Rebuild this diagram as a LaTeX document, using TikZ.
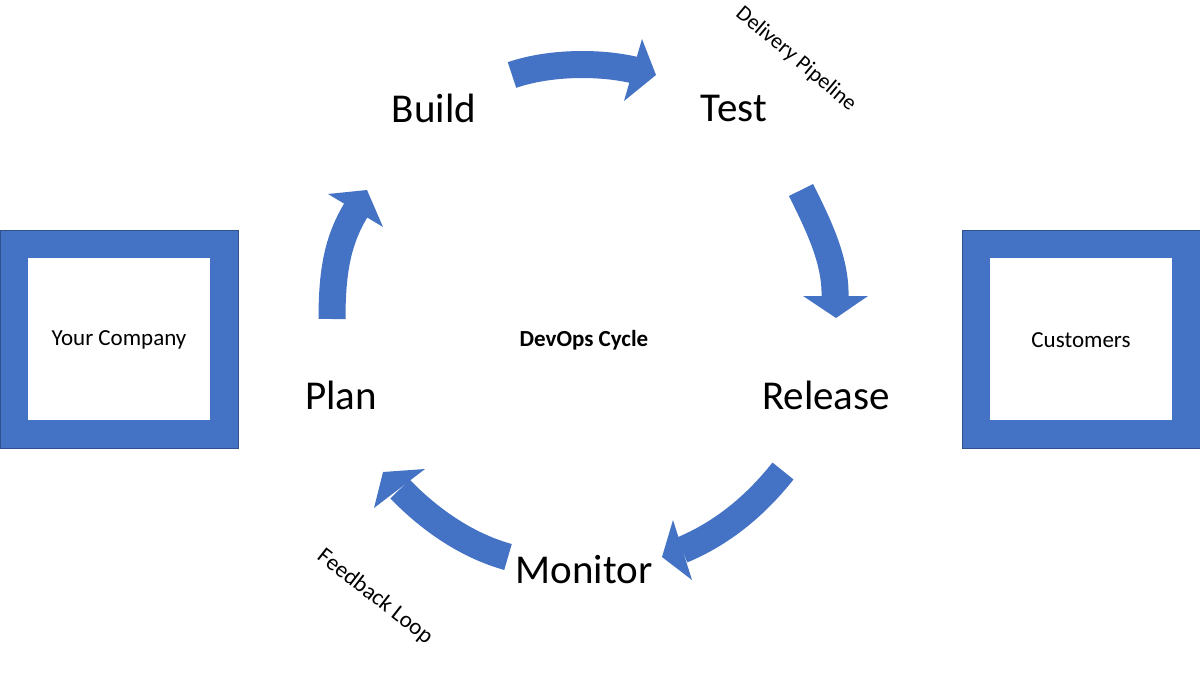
\documentclass[tikz,border=0pt]{standalone}
\usepackage{fontspec}
\setmainfont{Carlito}
\definecolor{blu}{HTML}{4472C4}
\definecolor{blud}{HTML}{2F528F}
\begin{document}
\begin{tikzpicture}[x=1pt,y=-1pt,
  shaft/.style={draw=blu,line width=27pt},
  head/.style={fill=blu},
  big/.style={font=\fontsize{41}{44}\selectfont},
  small/.style={font=\fontsize{23}{26}\selectfont}]
\useasboundingbox (0,0) rectangle (1200,674);
% boxes
\fill[blu,draw=blud] (0,230) rectangle (238,448);
\fill[white] (28,258) rectangle (210,420);
\fill[blu,draw=blud] (962,230) rectangle (1200,448);
\fill[white] (990,258) rectangle (1172,420);
\node[small] (yc) at (119,340) {Your Company};
\node[small] (cu) at (1081,340) {Customers};
% labels
\node[big] (build) at (434,108) {Build};
\node[big] (test) at (734,108) {Test};
\node[big] (plan) at (341,395) {Plan};
\node[big] (rel) at (826,395) {Release};
\node[big] (mon) at (584,570) {Monitor};
\node[font=\fontsize{23}{26}\bfseries] (dc) at (584,340) {DevOps Cycle};
\node[font=\fontsize{22}{26}\selectfont,rotate=-40] (dp) at (796,59) {Delivery Pipeline};
\node[small,rotate=-38] (fl) at (375,597) {Feedback Loop};
% arrows
\draw[shaft] (512,75) .. controls (550,62) and (600,62) .. (634,70);
\fill[head] (642,39) -- (656,75) -- (624,101) -- cycle;
\draw[shaft] (332,319) .. controls (332,270) and (338,240) .. (356,210);
\fill[head] (328,194) -- (367,190) -- (383,227) -- cycle;
\draw[shaft] (801,190) .. controls (820,228) and (836,262) .. (835,297);
\fill[head] (803,296) -- (868,296) -- (836,318) -- cycle;
\draw[shaft] (783,471) .. controls (752,510) and (718,535) .. (682,550);
\fill[head] (673,520) -- (662,557) -- (692,580) -- cycle;
\draw[shaft] (508,557) .. controls (465,545) and (428,518) .. (400,489);
\fill[head] (425,469) -- (383,472) -- (374,508) -- cycle;
\end{tikzpicture}
\end{document}
